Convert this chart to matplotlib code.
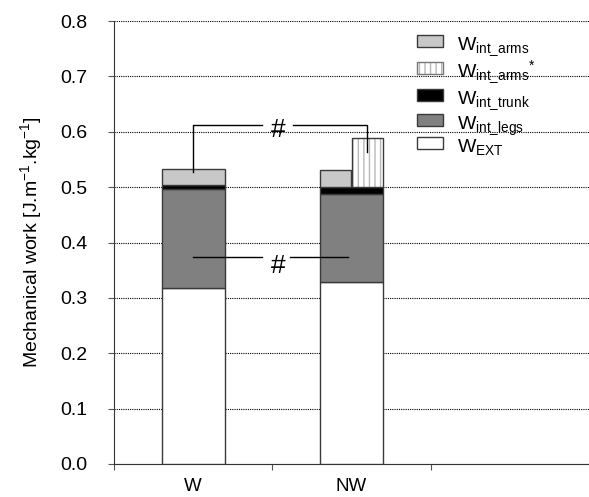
import matplotlib.pyplot as plt
from matplotlib.patches import Rectangle

plt.rcParams['font.family'] = ['Liberation Sans', 'DejaVu Sans']
plt.rcParams['mathtext.fontset'] = 'custom'
plt.rcParams['mathtext.rm'] = 'Liberation Sans'
plt.rcParams['mathtext.it'] = 'Liberation Sans'
plt.rcParams['mathtext.bf'] = 'Liberation Sans:bold'

# dados
categorias = ["W", "NW"]
w_ext = [0.318, 0.329]
w_legs = [0.179, 0.159]
w_trunk = [0.007, 0.012]
w_arms = [0.029, 0.031]
w_arms_star = 0.089  # so para NW

cor_arms = "#c8c8c8"
cor_trunk = "#000000"
cor_legs = "#808080"
cor_ext = "#ffffff"
borda = "#3a3a3a"
cor_hatch = "#b8b8b8"

W, H = 589, 497
fig = plt.figure(figsize=(W/100, H/100), dpi=100)
ax = fig.add_axes([114/W, 33/H, 1 - 114/W, (464-21)/H])

pos = [0.5, 1.5]
larg = 0.4

base = [0.0, 0.0]
for vals, cor in [(w_ext, cor_ext), (w_legs, cor_legs), (w_trunk, cor_trunk)]:
    ax.bar(pos, vals, larg, bottom=base, color=cor, edgecolor=borda, linewidth=1, zorder=3)
    base = [b + v for b, v in zip(base, vals)]

# braços: W inteiro, NW metade esquerda
ax.bar(pos[0], w_arms[0], larg, bottom=base[0], color=cor_arms, edgecolor=borda, linewidth=1, zorder=3)
ax.bar(pos[1] - larg/4, w_arms[1], larg/2, bottom=base[1], color=cor_arms, edgecolor=borda, linewidth=1, zorder=3)
# braços* tracejado, metade direita de NW
ax.bar(pos[1] + larg/4, w_arms_star, larg/2, bottom=base[1], color="white", edgecolor=cor_hatch,
       hatch="|||", linewidth=0, zorder=3)
ax.bar(pos[1] + larg/4, w_arms_star, larg/2, bottom=base[1], fill=False, edgecolor=borda, linewidth=1, zorder=4)

# linhas de comparação (#)
ax.plot([0.5, 0.5, 0.937], [0.527, 0.612, 0.612], color="black", lw=1, zorder=5)
ax.plot([1.133, 1.60, 1.60], [0.612, 0.612, 0.563], color="black", lw=1, zorder=5)
ax.text(1.035, 0.604, "#", ha="center", va="center", fontsize=19, zorder=6)
ax.plot([0.5, 0.937], [0.374, 0.374], color="black", lw=1, zorder=5)
ax.plot([1.11, 1.48], [0.374, 0.374], color="black", lw=1, zorder=5)
ax.text(1.035, 0.357, "#", ha="center", va="center", fontsize=19, zorder=6)

ax.set_xlim(0, 3)
ax.set_ylim(0, 0.8)
ax.set_yticks([i/10 for i in range(9)])
ax.set_yticklabels([f"{i/10:.1f}" for i in range(9)], fontsize=14)
ax.yaxis.grid(True, color="black", linestyle=(0, (1, 1)), linewidth=0.8, zorder=0)
ax.set_axisbelow(True)

ax.set_xticks([0, 1, 2])
ax.set_xticklabels([])
ax.set_xticks(pos, minor=True)
ax.set_xticklabels(categorias, minor=True, fontsize=13.5)
ax.tick_params(axis="x", which="minor", length=0, pad=10)
ax.tick_params(axis="x", which="major", length=4, direction="out", color="#555555")
ax.tick_params(axis="y", length=4, direction="out", color="#555555", pad=15)

for s in ["top", "right"]:
    ax.spines[s].set_visible(False)
ax.spines["left"].set_color("#333333")
ax.spines["bottom"].set_color("#333333")

ax.set_ylabel("Mechanical work [J.m$^{-1}$.kg$^{-1}$]", fontsize=14, labelpad=12)

# legenda desenhada à mão (posições em pixels)
leg_itens = [
    (r"W$_{\mathrm{int\_arms}}$", cor_arms, None),
    (r"W$_{\mathrm{int\_arms}}$$^{*}$", "white", "|||"),
    (r"W$_{\mathrm{int\_trunk}}$", cor_trunk, None),
    (r"W$_{\mathrm{int\_legs}}$", cor_legs, None),
    (r"W$_{\mathrm{EXT}}$", cor_ext, None),
]
linhas_y = [41, 68, 95, 120, 143]
for (txt, cor, hatch), yc in zip(leg_itens, linhas_y):
    x0, y0 = 417/W, 1 - (yc + 5.5)/H
    w, h = 26/W, 11/H
    if hatch:
        fig.add_artist(Rectangle((x0, y0), w, h, transform=fig.transFigure, facecolor=cor,
                                 edgecolor=cor_hatch, hatch=hatch, linewidth=0))
        fig.add_artist(Rectangle((x0, y0), w, h, transform=fig.transFigure, fill=False,
                                 edgecolor="#777777", linewidth=1))
    else:
        fig.add_artist(Rectangle((x0, y0), w, h, transform=fig.transFigure, facecolor=cor,
                                 edgecolor=borda, linewidth=1))
    fig.text(457/W, 1 - (yc + 9)/H, txt, fontsize=14, ha="left", va="baseline")

fig.savefig("out.png", dpi=100)
